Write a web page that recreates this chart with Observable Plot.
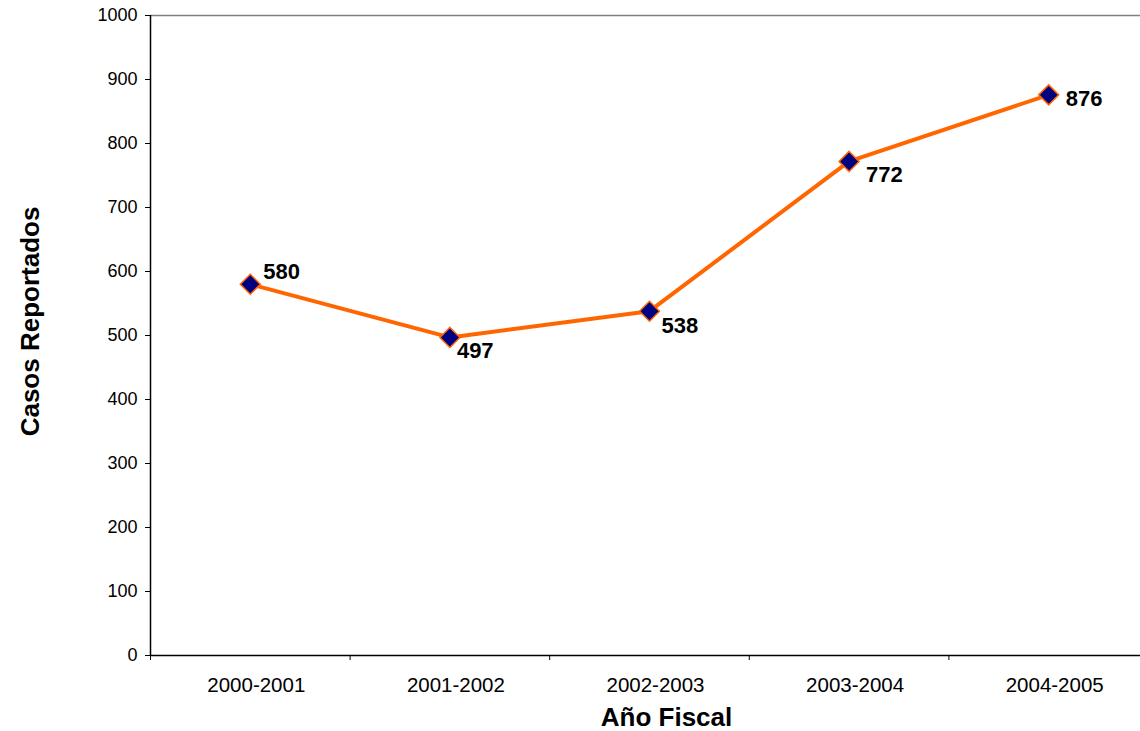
<!DOCTYPE html>
<html>
<head>
<meta charset="utf-8">
<script src="https://cdn.jsdelivr.net/npm/d3@7"></script>
<script src="https://cdn.jsdelivr.net/npm/@observablehq/plot@0.6"></script>
<style>
  html, body { margin: 0; padding: 0; background: #fff; overflow: hidden; }
  #chart svg { display: block; }
  #chart g[aria-label="x-axis tick label"] { font-size: 20.5px !important; }
</style>
</head>
<body>
<div id="chart"></div>
<script>
const years = ["2000-2001", "2001-2002", "2002-2003", "2003-2004", "2004-2005"];
const casos = [580, 497, 538, 772, 876];
const yTicks = [0, 100, 200, 300, 400, 500, 600, 700, 800, 900, 1000];
const yTitle = "Casos Reportados";
const xTitle = "Año Fiscal";

const data = years.map((y, i) => ({i, year: y, value: casos[i]}));
const centers = years.map((_, i) => i);
const bounds = d3.range(0, years.length + 1).map(i => i - 0.5);

const orange = "#FF6600";
const navy = "#000080";

const labelStyle = {x: "i", y: "value", text: d => String(d.value), textAnchor: "start", fontSize: 22, fontWeight: "bold", fill: "#000"};
const pick = k => data.filter(d => d.i === k);

const chart = Plot.plot({
  width: 1140,
  height: 731,
  marginLeft: 150,
  marginRight: -8,
  marginTop: 15,
  marginBottom: 76,
  style: {fontFamily: "'Liberation Sans', Arial, sans-serif", fontSize: "18px", color: "#000", background: "#fff"},
  x: {type: "linear", domain: [-0.5, years.length - 0.5]},
  y: {domain: [0, 1000]},
  marks: [
    Plot.ruleY([1000], {stroke: "#808080", strokeWidth: 1.5}),
    Plot.axisY({ticks: yTicks, tickSize: 5, tickPadding: 8, tickFormat: d => String(d), label: null, stroke: "#000"}),
    Plot.axisX({ticks: bounds, tickSize: 5, tickFormat: () => "", label: null, stroke: "#000"}),
    Plot.axisX({ticks: centers, tickSize: 0, tickPadding: 22, dx: 6, tickFormat: i => years[i], label: null}),
    Plot.ruleX([-0.5], {stroke: "#000", strokeWidth: 1.5}),
    Plot.ruleY([0], {stroke: "#000", strokeWidth: 1.5}),
    Plot.line(data, {x: "i", y: "value", stroke: orange, strokeWidth: 4}),
    Plot.dot(data, {x: "i", y: "value", symbol: "diamond2", r: 9, fill: navy, stroke: orange, strokeWidth: 1.5}),
    Plot.text(pick(0), {...labelStyle, dx: 13, dy: -12}),
    Plot.text(pick(1), {...labelStyle, dx: 7, dy: 14}),
    Plot.text(pick(2), {...labelStyle, dx: 12, dy: 15}),
    Plot.text(pick(3), {...labelStyle, dx: 17, dy: 14}),
    Plot.text(pick(4), {...labelStyle, dx: 17, dy: 4}),
    Plot.text([yTitle], {frameAnchor: "left", textAnchor: "middle", dx: -120, dy: -14, rotate: -90, fontSize: 26, fontWeight: "bold", fill: "#000"}),
    Plot.text([xTitle], {frameAnchor: "bottom", dx: 17, dy: 70, fontSize: 26, fontWeight: "bold", fill: "#000"})
  ]
});
document.getElementById("chart").appendChild(chart);
</script>
</body>
</html>
